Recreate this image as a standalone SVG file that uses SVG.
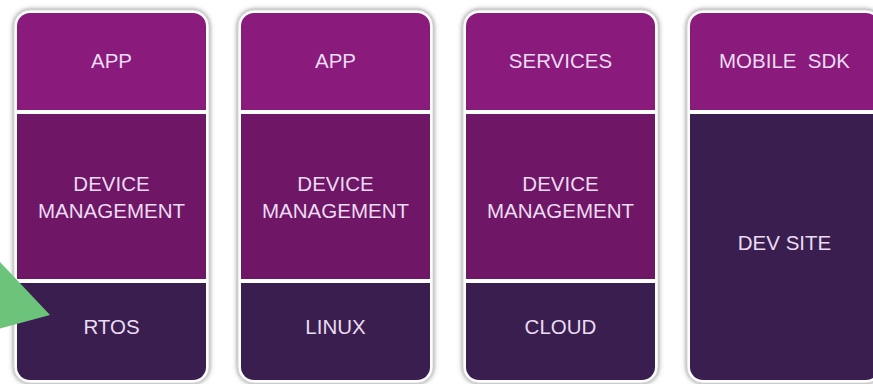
<svg xmlns="http://www.w3.org/2000/svg" width="873" height="384" viewBox="0 0 873 384">
<style>
.frame{fill:#ffffff;stroke:#d0d0d0;stroke-width:0.8;filter:url(#sh)}
.top{fill:#8A1A7B}
.mid{fill:#701666}
.bot{fill:#391E4F}
.t{font-family:"Liberation Sans",Arial,sans-serif;font-size:20.5px;fill:#EADCF2;text-anchor:middle}
</style>
<defs>
<filter id="sh" x="-10%" y="-5%" width="120%" height="110%">
<feDropShadow dx="0" dy="0" stdDeviation="2.6" flood-color="#606060" flood-opacity="0.85"/>
</filter>
<clipPath id="c1"><rect x="17" y="13" width="189" height="367" rx="13"/></clipPath>
<clipPath id="c2"><rect x="241" y="13" width="189" height="367" rx="13"/></clipPath>
<clipPath id="c3"><rect x="466" y="13" width="189" height="367" rx="13"/></clipPath>
<clipPath id="c4"><rect x="690" y="13" width="189" height="367" rx="13"/></clipPath>
</defs>
<rect width="873" height="384" fill="#ffffff"/>

<g id="card1">
<rect class="frame" x="14" y="10" width="195" height="373" rx="16"/>
<g clip-path="url(#c1)">
<rect class="top" x="17" y="13" width="189" height="97"/>
<rect class="mid" x="17" y="114" width="189" height="165"/>
<rect class="bot" x="17" y="283" width="189" height="97"/>
</g>
<text class="t" x="111.5" y="68">APP</text>
<text class="t" x="111.5" y="191">DEVICE</text>
<text class="t" x="111.5" y="218">MANAGEMENT</text>
<text class="t" x="111.5" y="334">RTOS</text>
</g>

<g id="card2">
<rect class="frame" x="238" y="10" width="195" height="373" rx="16"/>
<g clip-path="url(#c2)">
<rect class="top" x="241" y="13" width="189" height="97"/>
<rect class="mid" x="241" y="114" width="189" height="165"/>
<rect class="bot" x="241" y="283" width="189" height="97"/>
</g>
<text class="t" x="335.5" y="68">APP</text>
<text class="t" x="335.5" y="191">DEVICE</text>
<text class="t" x="335.5" y="218">MANAGEMENT</text>
<text class="t" x="335.5" y="334">LINUX</text>
</g>

<g id="card3">
<rect class="frame" x="463" y="10" width="195" height="373" rx="16"/>
<g clip-path="url(#c3)">
<rect class="top" x="466" y="13" width="189" height="97"/>
<rect class="mid" x="466" y="114" width="189" height="165"/>
<rect class="bot" x="466" y="283" width="189" height="97"/>
</g>
<text class="t" x="560.5" y="68">SERVICES</text>
<text class="t" x="560.5" y="191">DEVICE</text>
<text class="t" x="560.5" y="218">MANAGEMENT</text>
<text class="t" x="560.5" y="334">CLOUD</text>
</g>

<g id="card4">
<rect class="frame" x="687" y="10" width="195" height="373" rx="16"/>
<g clip-path="url(#c4)">
<rect class="top" x="690" y="13" width="189" height="97"/>
<rect class="bot" x="690" y="114" width="189" height="266"/>
</g>
<text class="t" x="784.5" y="68" xml:space="preserve">MOBILE  SDK</text>
<text class="t" x="784.5" y="250">DEV SITE</text>
</g>

<polygon points="-2,260 50,315 -2,329" fill="#6CC47A"/>
</svg>
